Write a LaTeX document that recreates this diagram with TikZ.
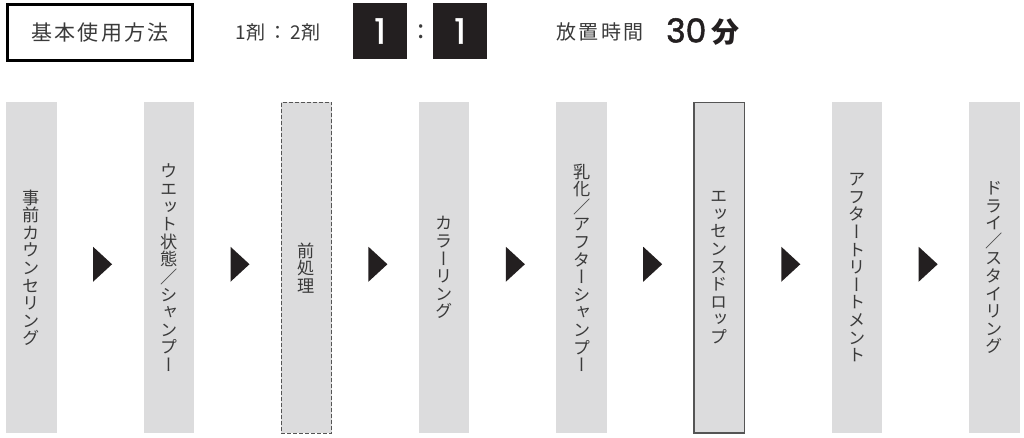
\documentclass[tikz,border=0pt]{standalone}
\usepackage{fontspec}
\setmainfont{Noto Sans CJK JP}
\newfontfamily\jp{Noto Sans CJK JP}
\newfontfamily\vjp[RawFeature=+vert]{Noto Sans CJK JP}
\newfontfamily\geo[FakeBold=1.2]{Poppins}
\newfontfamily\geob[FakeBold=1.6]{Poppins}
\usetikzlibrary{calc}
\definecolor{txt}{HTML}{3A3A3A}
\definecolor{colfill}{HTML}{DCDCDD}
\definecolor{blk}{HTML}{231F20}
\definecolor{edge}{HTML}{555555}
\tikzset{
  colbox/.style={fill=colfill, draw=none, minimum width=50.5pt, minimum height=330.5pt,
    inner sep=0pt, align=center, text=txt, font=\vjp\fontsize{17.2}{17.6}\selectfont},
  dashbox/.style={colbox, draw=edge, line width=1pt, dash pattern=on 4pt off 2pt},
  solidbox/.style={colbox, draw=edge, line width=1.4pt},
  tri/.style={fill=blk},
  lbl/.style={text=txt, inner sep=0pt},
  numbox/.style={fill=blk, minimum width=54pt, minimum height=56pt, inner sep=0pt,
    text=white, font=\geo\fontsize{35}{35}\selectfont}
}
\begin{document}
\begin{tikzpicture}[x=1pt,y=-1pt]
\useasboundingbox (0,0) rectangle (1024,438);
% top bar
\node[draw=black, line width=3pt, minimum width=185pt, minimum height=56pt, inner sep=0pt,
  text=txt, font=\jp\fontsize{21}{21}\selectfont\addfontfeature{LetterSpace=10}] (title) at (100,32.5) {基本使用方法};
\node[lbl, font=\jp\fontsize{19}{19}\selectfont] (ratio) at (278,32.5) {1剤\,：\,2剤};
\node[numbox] (n1) at (380,31) {1};
\node[lbl, font=\jp\fontsize{26}{26}\selectfont] (colon) at (421.5,32) {:};
\node[numbox] (n2) at (460,31) {1};
\node[lbl, font=\jp\fontsize{20}{20}\selectfont\addfontfeature{LetterSpace=12}] (time) at (600,32) {放置時間};
\node[lbl, text=blk, anchor=base west, font=\geob\fontsize{33}{33}\selectfont] (min) at (666,42.5) {30\,{\jp\bfseries\fontsize{28}{28}\selectfont 分}};
% columns
\node[colbox]   (c1) at (31.25,267.75)  {事\\前\\カ\\ウ\\ン\\セ\\リ\\ン\\グ};
\node[colbox]   (c2) at (168.85,267.75) {ウ\\エ\\ッ\\ト\\状\\態\\／\\シ\\ャ\\ン\\プ\\ー};
\node[dashbox]  (c3) at (306.45,267.75) {前\\処\\理};
\node[colbox]   (c4) at (444.05,267.75) {カ\\ラ\\ー\\リ\\ン\\グ};
\node[colbox]   (c5) at (581.65,267.75) {乳\\化\\／\\ア\\フ\\タ\\ー\\シ\\ャ\\ン\\プ\\ー};
\node[solidbox] (c6) at (719.25,267.75) {エ\\ッ\\セ\\ン\\ス\\ド\\ロ\\ッ\\プ};
\node[colbox]   (c7) at (856.85,267.75) {ア\\フ\\タ\\ー\\ト\\リ\\ー\\ト\\メ\\ン\\ト};
\node[colbox]   (c8) at (994.45,267.75) {ド\\ラ\\イ\\／\\ス\\タ\\イ\\リ\\ン\\グ};
% arrow markers
\foreach \a/\b in {c1/c2,c2/c3,c3/c4,c4/c5,c5/c6,c6/c7,c7/c8}{
  \fill[tri] ($(\a.east)!0.5!(\b.west)$) ++(-7,-21) -- ++(19,17.5) -- ++(-19,17.5) -- cycle;
}
\end{tikzpicture}
\end{document}
